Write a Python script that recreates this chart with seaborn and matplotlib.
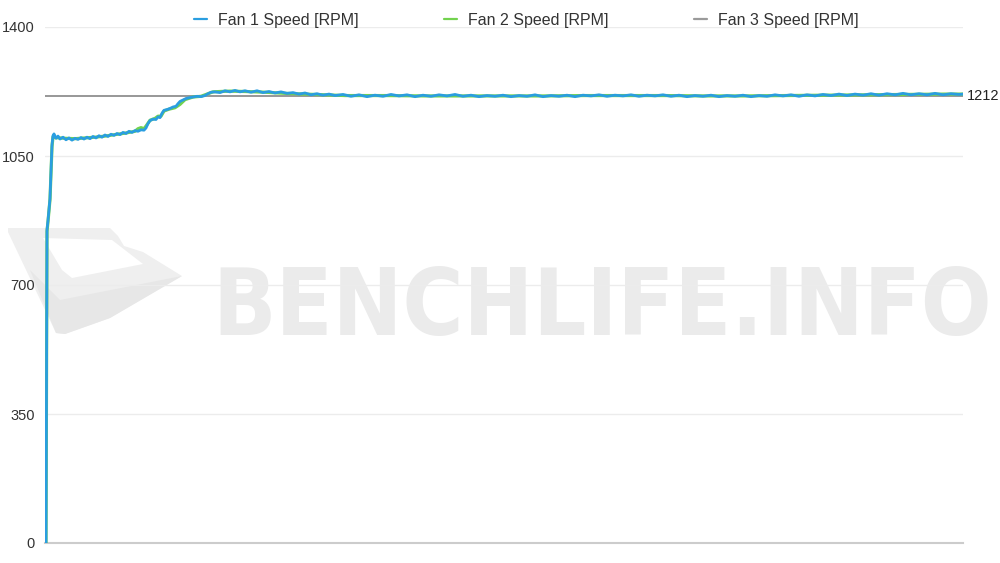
import matplotlib
matplotlib.use("Agg")
import matplotlib.pyplot as plt
from matplotlib import font_manager as fm
from matplotlib.patches import Polygon
import seaborn as sns
import pandas as pd

# ---------------- data ----------------
SERIES = ["Fan 1 Speed [RPM]", "Fan 2 Speed [RPM]", "Fan 3 Speed [RPM]"]
COLORS = ["#2a9ee0", "#72d24e", "#7a7a7a"]
YTICKS = [0, 350, 700, 1050, 1400]

FAN1_T = [0, 1, 2, 3, 5, 6, 7, 8, 9, 11,
          13, 15, 18, 21, 24, 27, 30, 33, 36, 39,
          42, 45, 48, 51, 54, 57, 60, 63, 66, 69,
          72, 75, 78, 81, 84, 87, 90, 93, 96, 99,
          101, 103, 105, 108, 111, 113, 115, 117, 119, 122,
          125, 128, 131, 133, 135, 138, 141, 144, 148, 152,
          156, 160, 163, 166, 170, 175, 180, 185, 190, 195,
          200, 206, 212, 218, 224, 230, 236, 242, 248, 254,
          260, 266, 272, 278, 284, 290, 298, 306, 314, 322,
          330, 338, 346, 354, 362, 370, 378, 386, 394, 402,
          410, 418, 426, 434, 442, 450, 458, 466, 474, 482,
          490, 498, 506, 514, 522, 530, 538, 546, 554, 562,
          570, 578, 586, 594, 602, 610, 618, 626, 634, 642,
          650, 658, 666, 674, 682, 690, 698, 706, 714, 722,
          730, 738, 746, 754, 762, 770, 778, 786, 794, 802,
          810, 818, 826, 834, 842, 850, 858, 866, 874, 882,
          890, 898, 906, 914, 918]
FAN1_V = [0, 0, 850, 875, 935, 1010, 1080, 1105, 1110, 1098,
          1104, 1096, 1101, 1094, 1099, 1093, 1098, 1095, 1100, 1096,
          1101, 1097, 1103, 1099, 1105, 1101, 1107, 1103, 1109, 1106,
          1111, 1108, 1114, 1111, 1117, 1114, 1119, 1117, 1121, 1120,
          1126, 1138, 1146, 1150, 1149, 1156, 1154, 1166, 1174, 1176,
          1179, 1183, 1185, 1192, 1198, 1202, 1206, 1208, 1210, 1212,
          1211, 1214, 1219, 1223, 1224, 1222, 1227, 1224, 1228, 1224,
          1227, 1223, 1227, 1222, 1225, 1221, 1224, 1220, 1222, 1218,
          1221, 1216, 1219, 1215, 1218, 1214, 1217, 1212, 1216, 1211,
          1215, 1212, 1217, 1213, 1216, 1211, 1215, 1212, 1216, 1213,
          1217, 1212, 1215, 1211, 1214, 1212, 1215, 1211, 1214, 1212,
          1216, 1211, 1214, 1212, 1215, 1211, 1215, 1213, 1216, 1212,
          1215, 1213, 1216, 1212, 1215, 1213, 1216, 1212, 1215, 1211,
          1214, 1212, 1215, 1211, 1214, 1212, 1215, 1211, 1214, 1212,
          1216, 1213, 1216, 1212, 1216, 1213, 1217, 1214, 1218, 1214,
          1218, 1215, 1219, 1215, 1219, 1216, 1220, 1216, 1219, 1216,
          1220, 1216, 1219, 1217, 1218]

FAN2_T = [1, 2, 3, 5, 7, 8, 10,
          20, 30, 40, 50, 60, 70, 80, 90,
          93, 96, 99, 102, 105,
          110, 113, 116, 119, 124,
          130, 135, 140, 148, 156,
          162, 168, 175, 185, 200,
          220, 240, 260, 280, 300,
          340, 380, 420, 460, 500,
          540, 580, 620, 660, 700,
          740, 780, 820, 860, 900, 918]
FAN2_V = [0, 845, 872, 932, 1075, 1102, 1100,
          1098, 1097, 1099, 1101, 1104, 1108, 1112, 1117,
          1124, 1127, 1124, 1135, 1147,
          1152, 1158, 1158, 1172, 1177,
          1181, 1190, 1203, 1210, 1212,
          1218, 1224, 1225, 1226, 1225,
          1223, 1220, 1218, 1216, 1214,
          1214, 1213, 1213, 1213, 1213,
          1214, 1214, 1214, 1213, 1213,
          1214, 1215, 1216, 1217, 1218, 1218]

FAN3_T = [0, 918]
FAN3_V = [1212, 1212]

WATERMARK = "BENCHLIFE.INFO"

assert len(FAN1_T) == len(FAN1_V)
assert len(FAN2_T) == len(FAN2_V)

df = pd.concat([
    pd.DataFrame({"t": FAN1_T, "rpm": FAN1_V, "series": SERIES[0]}),
    pd.DataFrame({"t": FAN2_T, "rpm": FAN2_V, "series": SERIES[1]}),
    pd.DataFrame({"t": FAN3_T, "rpm": FAN3_V, "series": SERIES[2]}),
])

# ---------------- style ----------------
sns.set_theme(style="white")
plt.rcParams["font.family"] = ["Liberation Sans", "DejaVu Sans"]

W, H = 1000, 563
fig = plt.figure(figsize=(10, 5.63), dpi=100)
ax = fig.add_axes([45 / W, 20 / H, 918 / W, (543 - 27) / H])
ax.patch.set_facecolor("none")


def fxy(x, y):
    return (x / W, 1 - y / H)


# ---- watermark (decoration behind the chart) ----
logo_outer = [fxy(*p) for p in [(8, 228), (110, 228), (118, 236), (124, 246),
                                  (143, 252), (182, 276), (110, 318),
                                  (65, 334), (56, 333), (8, 232)]]
logo_band = [fxy(*p) for p in [(30, 270), (60, 300), (182, 276), (110, 318),
                                 (65, 334), (56, 333)]]
logo_inner = [fxy(*p) for p in [(43, 238), (112, 240), (143, 264),
                                  (72, 278), (62, 270)]]
fig.add_artist(Polygon(logo_outer, closed=True, transform=fig.transFigure,
                       facecolor="#efefef", edgecolor="none", zorder=-3))
fig.add_artist(Polygon(logo_band, closed=True, transform=fig.transFigure,
                       facecolor="#e7e7e7", edgecolor="none", zorder=-2.5))
fig.add_artist(Polygon(logo_inner, closed=True, transform=fig.transFigure,
                       facecolor="#ffffff", edgecolor="none", zorder=-2))

# pick a narrow / condensed bold font if one is installed
cond = []
for f in fm.fontManager.ttflist:
    st = f.stretch
    narrow = ("Narrow" in f.name or "Condensed" in f.name
              or (isinstance(st, str) and "condensed" in st)
              or (isinstance(st, int) and st < 500))
    if narrow:
        w = f.weight if isinstance(f.weight, int) else (700 if "bold" in str(f.weight) else 400)
        cond.append((abs(w - 700), f.fname))
if cond:
    cond.sort()
    wm_prop = fm.FontProperties(fname=cond[0][1])
else:
    wm_prop = fm.FontProperties(family="Liberation Sans", weight="bold")

wm_size = 110
wm_prop.set_size(wm_size)
wm = fig.text(212 / W, 1 - 335 / H, WATERMARK, fontproperties=wm_prop,
              color="#ebebeb", ha="left", va="baseline", zorder=-1)
fig.canvas.draw()
bb = wm.get_window_extent()
target = 992 - 212
if bb.width > target:
    wm_prop.set_size(wm_size * target / bb.width)
    wm.set_fontproperties(wm_prop)

# ---- data lines ----
widths = [2.0, 2.3, 1.1]
zorders = [4, 3, 2]
for name, col, lw, z in zip(SERIES, COLORS, widths, zorders):
    sns.lineplot(data=df[df["series"] == name], x="t", y="rpm", color=col,
                 lw=lw, ax=ax, label=name, zorder=z, legend=False,
                 estimator=None, sort=False)

ax.set_xlim(0, 918)
ax.set_ylim(0, 1400)
ax.set_xticks([])
ax.set_yticks(YTICKS)
ax.set_xlabel("")
ax.set_ylabel("")
ax.tick_params(axis="y", length=0, pad=7.5, labelsize=10.5, labelcolor="#333333")
ax.set_axisbelow(True)
ax.yaxis.grid(True, color="#ececec", lw=1)
for s in ["left", "right", "top"]:
    ax.spines[s].set_visible(False)
ax.spines["bottom"].set_color("#cccccc")
ax.spines["bottom"].set_linewidth(1.5)

ax.annotate(str(FAN3_V[-1]), xy=(1, FAN3_V[-1]),
            xycoords=("axes fraction", "data"), xytext=(3, 0),
            textcoords="offset points", va="center", ha="left",
            fontsize=10.5, color="#222222")

handles = [plt.Line2D([], [], color=c, lw=1.6) for c in COLORS]
handles[2].set_color("#9a9a9a")
fig.legend(handles, SERIES, loc="center", bbox_to_anchor=(0.526, 1 - 20 / H),
           ncol=3, frameon=False, fontsize=11.5, handlelength=0.85,
           handletextpad=0.65, columnspacing=5.35, labelcolor="#333333")

fig.savefig("out.png", dpi=100)
